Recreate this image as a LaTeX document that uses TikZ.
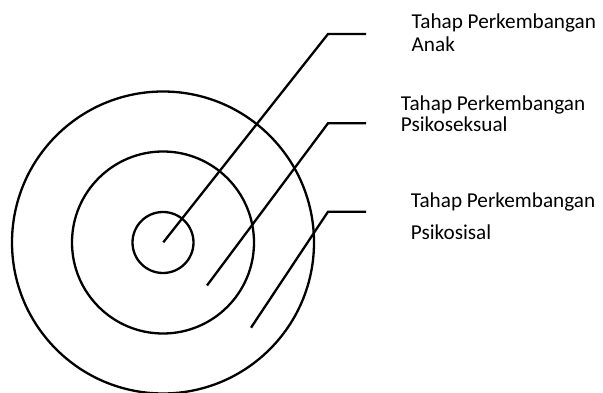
\documentclass[tikz,border=0pt]{standalone}
\usepackage{fontspec}
\setmainfont{Carlito}
\begin{document}
\begin{tikzpicture}[x=1pt,y=-1pt,
  ring/.style={draw, circle, line width=2.3pt, inner sep=0pt},
  lead/.style={line width=2.3pt, line join=miter},
  lbl/.style={anchor=base west, inner sep=0pt, font=\fontsize{21.2}{24}\selectfont}]
\useasboundingbox (0,0) rectangle (603,393);
% concentric circles
\node[ring, minimum size=61pt]  (c1) at (163,242.5) {};
\node[ring, minimum size=182pt] (c2) at (163,242.5) {};
\node[ring, minimum size=302pt] (c3) at (163,242.5) {};
% leader coordinates
\coordinate (s1) at (163.3,242.3);
\coordinate (k1) at (328,34);
\coordinate (e1) at (366,34);
\coordinate (s2) at (207,285.5);
\coordinate (k2) at (328,123.3);
\coordinate (e2) at (366,123.3);
\coordinate (s3) at (251,327.7);
\coordinate (k3) at (328,211.7);
\coordinate (e3) at (366,211.7);
\draw[lead] (s1) -- (k1) -- (e1);
\draw[lead] (s2) -- (k2) -- (e2);
\draw[lead] (s3) -- (k3) -- (e3);
% labels
\node[lbl] (t1a) at (411.5,29) {Tahap Perkembangan};
\node[lbl] (t1b) at (411.5,51.5) {Anak};
\node[lbl] (t2a) at (400.7,110.7) {Tahap Perkembangan};
\node[lbl] (t2b) at (400.7,131.7) {Psikoseksual};
\node[lbl] (t3a) at (410.7,207.7) {Tahap Perkembangan};
\node[lbl] (t3b) at (410.7,240) {Psikosisal};
\end{tikzpicture}
\end{document}
